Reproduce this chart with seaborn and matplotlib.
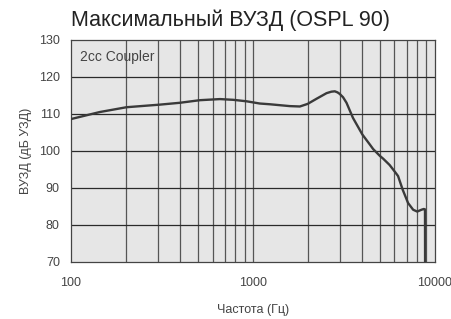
import matplotlib
matplotlib.use("Agg")
import matplotlib.pyplot as plt
import seaborn as sns
import pandas as pd

sns.set_style("white")
plt.rcParams['font.family'] = ['Liberation Sans', 'DejaVu Sans']

# Данные кривой OSPL 90 (частота, ВУЗД)
freq = [100, 144, 202, 308, 397, 511, 659, 780, 924, 1091, 1240, 1596, 1812,
        2000, 2240, 2540, 2700, 2820, 2920, 3000, 3130, 3270, 3550, 4000, 4396,
        4580, 5000, 5200, 5640, 6000, 6280, 6660, 7130, 7600, 8000, 8450, 8700,
        8830, 8840]
ospl = [108.6, 110.5, 111.8, 112.5, 113.0, 113.7, 114.0, 113.8, 113.4, 112.8, 112.6, 112.1, 112.0,
        112.7, 114.1, 115.6, 116.0, 116.1, 115.8, 115.4, 114.5, 113.0, 108.9, 104.4, 101.7,
        100.5, 98.6, 97.9, 96.2, 94.5, 93.2, 89.5, 85.9, 84.1, 83.6, 84.1, 84.3,
        84.2, 70.0]

xticks = [100, 1000, 10000]
xticklabels = ["100", "1000", "10000"]
yticks = [70, 80, 90, 100, 110, 120, 130]
grid_x = [200, 300, 400, 500, 600, 700, 800, 900,
          2000, 3000, 4000, 5000, 6000, 7000, 8000, 9000]

df = pd.DataFrame({"freq": freq, "ospl": ospl})

fig = plt.figure(figsize=(4.52, 3.19), dpi=100)
ax = fig.add_axes([0.157, 0.179, 0.805, 0.696])
ax.set_facecolor("#e6e6e6")

for g in grid_x + [1000]:
    ax.axvline(g, color="#555555", lw=0.9, zorder=1)
for g in yticks[1:-1]:
    ax.axhline(g, color="#2a2a2a", lw=0.9, zorder=1)

sns.lineplot(data=df, x="freq", y="ospl", ax=ax, color="#3a3a3a", lw=1.7,
             sort=False, zorder=3)

ax.set_xscale("log")
ax.set_xlim(100, 10000)
ax.set_ylim(70, 130)
ax.set_xticks(xticks)
ax.set_xticklabels(xticklabels)
ax.minorticks_off()
ax.set_yticks(yticks)
ax.tick_params(axis="both", length=0, labelsize=9, labelcolor="#444444")
ax.tick_params(axis="y", pad=8)
ax.tick_params(axis="x", pad=11)

for s in ax.spines.values():
    s.set_color("#444444")
    s.set_linewidth(0.9)

ax.text(0.026, 0.923, "2cc Coupler", transform=ax.transAxes, fontsize=10,
        color="#444444", va="center", ha="left")

ax.set_xlabel("Частота (Гц)", fontsize=9, color="#444444", labelpad=11)
ax.set_ylabel("ВУЗД (дБ УЗД)", fontsize=9, color="#444444", labelpad=5)
fig.text(0.509, 0.937, "Максимальный ВУЗД (OSPL 90)", ha="center", va="center",
         fontsize=15.5, color="#222222")

fig.savefig("out.png", dpi=100)
